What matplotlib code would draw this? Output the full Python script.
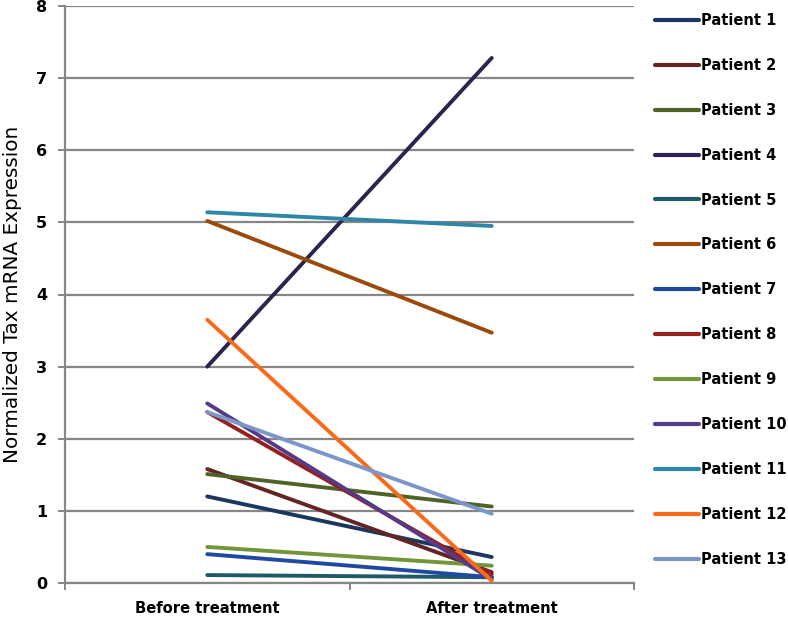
import matplotlib
matplotlib.use("Agg")
import matplotlib.pyplot as plt

categories = ["Before treatment", "After treatment"]
patients = ["Patient %d" % i for i in range(1, 14)]
before = [1.20, 1.58, 1.51, 3.00, 0.11, 5.02, 0.40, 2.37, 0.50, 2.49, 5.14, 3.65, 2.37]
after = [0.36, 0.15, 1.06, 7.28, 0.08, 3.47, 0.08, 0.12, 0.24, 0.05, 4.95, 0.03, 0.96]
colors = ['#1b365f', '#652424', '#4f6228', '#2f2150', '#1f5a69', '#9a4a0c', '#2049a0',
          '#96201f', '#73953a', '#563a8a', '#2f87a8', '#fb6a1a', '#7b96c8']

fig = plt.figure(figsize=(7.88, 6.19), dpi=100)
ax = fig.add_axes([65/788, 36/619, (634-65)/788, 577/619])

# gridlines first so the series sit on top
ax.set_ylim(0, 8)
ax.set_xlim(-0.5, 1.5)
ax.set_yticks(range(0, 9))
ax.yaxis.grid(True, color='#868686', lw=1.6)
ax.set_axisbelow(True)

x = [0, 1]
for i, name in enumerate(patients):
    ax.plot(x, [before[i], after[i]], color=colors[i], lw=2.8,
            solid_capstyle='round', label=name)

for s in ['top', 'right']:
    ax.spines[s].set_visible(False)
for s in ['left', 'bottom']:
    ax.spines[s].set_color('#868686')
    ax.spines[s].set_linewidth(1.6)

# x ticks sit at category boundaries, labels centred in categories
ax.set_xticks([-0.5, 0.5, 1.5])
ax.set_xticklabels([])
ax.set_xticks(x, minor=True)
ax.set_xticklabels(categories, minor=True, fontsize=10.6, fontweight='bold')
ax.tick_params(axis='x', which='minor', length=0, pad=13)
ax.tick_params(axis='x', which='major', length=5, width=1.4, color='#868686')
ax.tick_params(axis='y', length=5, width=1.4, color='#868686', labelsize=11.5, pad=8)
for t in ax.get_yticklabels():
    t.set_fontweight('bold')

ax.set_ylabel("Normalized Tax mRNA Expression", fontsize=14.4, labelpad=10)

leg = ax.legend(loc='upper left', bbox_to_anchor=(655/788, 1 - 13/619),
                bbox_transform=fig.transFigure, frameon=False,
                handlelength=3.0, handletextpad=0.15, labelspacing=2.05,
                prop={'size': 10.5, 'weight': 'bold'}, borderaxespad=0, borderpad=0)
for h in leg.get_lines():
    h.set_linewidth(3)

fig.savefig("out.png", dpi=100)
